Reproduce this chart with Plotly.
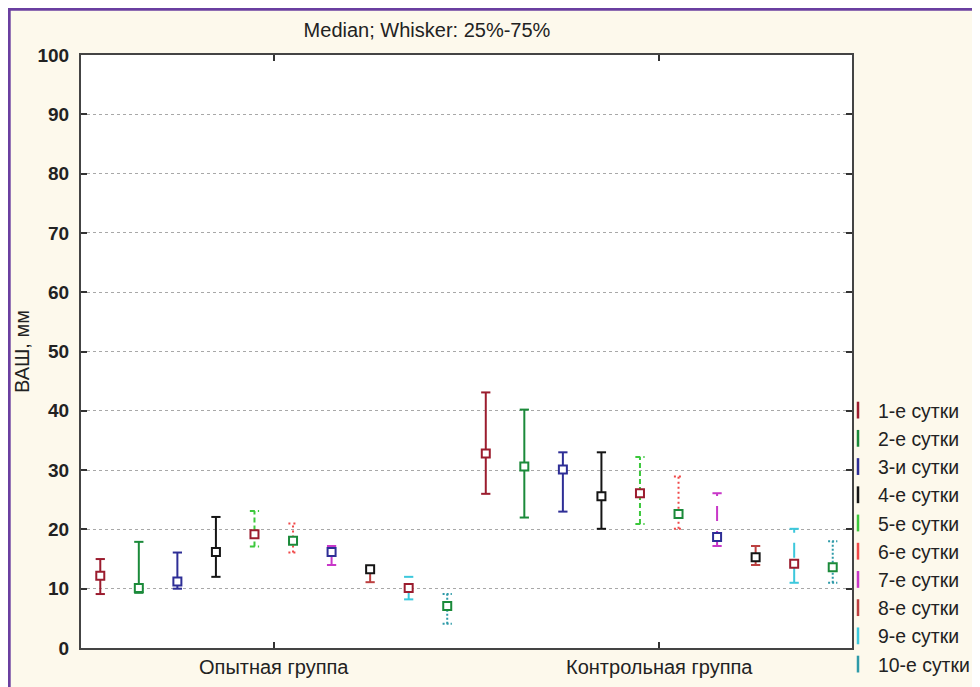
import plotly.graph_objects as go

# ---------------- data ----------------
groups = ["Опытная группа", "Контрольная группа"]
series_names = ["1-е сутки", "2-е сутки", "3-и сутки", "4-е сутки", "5-е сутки",
                "6-е сутки", "7-е сутки", "8-е сутки", "9-е сутки", "10-е сутки"]

opyt_median = [12.2, 10.1, 11.2, 16.2, 19.2, 18.1, 16.2, 13.3, 10.1, 7.1]
opyt_q25 = [9.1, 9.3, 10.0, 12.0, 17.1, 16.1, 14.0, 11.1, 8.2, 4.1]
opyt_q75 = [15.0, 17.9, 16.1, 22.1, 23.1, 21.0, 17.2, 13.6, 12.0, 9.1]

kontr_median = [32.8, 30.6, 30.1, 25.6, 26.1, 22.6, 18.7, 15.3, 14.2, 13.6]
kontr_q25 = [26.0, 22.0, 23.0, 20.1, 20.9, 20.1, 17.2, 14.0, 11.0, 11.0]
kontr_q75 = [43.1, 40.2, 33.0, 33.0, 32.2, 28.9, 26.1, 17.2, 20.1, 18.0]

y_ticks = [0, 10, 20, 30, 40, 50, 60, 70, 80, 90, 100]

# ---------------- styles ----------------
marker_colors = ["#9B1C2E", "#1B8A3A", "#2E2E96", "#151515", "#9B1C2E",
                 "#1B8A3A", "#2E2E96", "#151515", "#9B1C2E", "#1B8A3A"]
whisker_colors = ["#9B1C2E", "#1B8A3A", "#2E2E96", "#151515", "#3CC83C",
                  "#F04848", "#C837C8", "#BC4040", "#3CC8DC", "#2E9AA8"]
whisker_dash = ["solid", "solid", "solid", "solid", "5px,3px",
                "2px,3px", "15px,10px", "solid", "15px,10px", "2px,2px"]

FONT = "Liberation Sans, Arial, sans-serif"
TXT = "#222222"
spacing = 0.1
cap = 0.012

medians = [opyt_median, kontr_median]
q25 = [opyt_q25, kontr_q25]
q75 = [opyt_q75, kontr_q75]

fig = go.Figure()

for i, name in enumerate(series_names):
    off = (i - 4.5) * spacing
    wx, wy = [], []
    mx, my = [], []
    for g in range(len(groups)):
        xc = g + off
        lo, hi = q25[g][i], q75[g][i]
        wx += [xc, xc, None, xc - cap, xc + cap, None, xc - cap, xc + cap, None]
        wy += [lo, hi, None, lo, lo, None, hi, hi, None]
        mx.append(xc)
        my.append(medians[g][i])
    fig.add_trace(go.Scatter(
        x=wx, y=wy, mode="lines", legendgroup=name, showlegend=False,
        line=dict(color=whisker_colors[i], width=2, dash=whisker_dash[i]),
        hoverinfo="skip"))
    fig.add_trace(go.Scatter(
        x=mx, y=my, mode="markers", legendgroup=name, showlegend=False, name=name,
        marker=dict(symbol="square", size=8, color="white",
                    line=dict(color=marker_colors[i], width=2))))
    # legend entry
    fig.add_trace(go.Scatter(
        x=[None], y=[None], mode="markers", name=name, legendgroup=name,
        showlegend=True,
        marker=dict(symbol="line-ns", size=12,
                    line=dict(color=whisker_colors[i], width=2.5))))

# the page body adds an 8px offset; figure coordinates below are figure pixels
W, H = 972, 679
L, R, T, B = 73, 128, 47, 39
pw, ph = W - L - R, H - T - B


def px_x(p):
    return (p - L) / pw


def px_y(p):
    return (H - B - p) / ph


shapes = [
    dict(type="line", xref="paper", yref="paper", x0=px_x(1.2), x1=px_x(1.2),
         y0=px_y(0), y1=px_y(H + 5), line=dict(color="#6A3FA0", width=3)),
    dict(type="line", xref="paper", yref="paper", x0=px_x(0), x1=px_x(W + 5),
         y0=px_y(1.2), y1=px_y(1.2), line=dict(color="#6A3FA0", width=3)),
]

fig.update_layout(
    width=W, height=H,
    margin=dict(l=L, r=R, t=T, b=B, autoexpand=False),
    paper_bgcolor="#FDF9EC",
    plot_bgcolor="white",
    font=dict(family=FONT, size=20, color=TXT),
    title=dict(text="Median; Whisker: 25%-75%", x=px_x(419), xref="paper",
               xanchor="center", y=1 - 22 / H, yanchor="middle",
               font=dict(family=FONT, size=20, color=TXT)),
    showlegend=True,
    legend=dict(x=px_x(830), xanchor="left", y=px_y(383), yanchor="top",
                bgcolor="rgba(0,0,0,0)", font=dict(family=FONT, size=19.4, color=TXT),
                tracegroupgap=0, itemwidth=30),
    shapes=shapes,
    xaxis=dict(range=[-0.5, 1.5], tickmode="array", tickvals=[0, 1], ticktext=groups,
               ticks="inside", ticklen=6, tickcolor="#333", tickwidth=1.5,
               showline=True, linecolor="#444", linewidth=2, mirror="ticks",
               showgrid=False, zeroline=False, automargin=False,
               tickfont=dict(family=FONT, size=20, color=TXT)),
    yaxis=dict(range=[0, 100], tickmode="array", tickvals=y_ticks,
               ticktext=[f"<b>{v}</b>" for v in y_ticks],
               ticks="inside", ticklen=6, tickcolor="#333", tickwidth=1.5,
               showline=True, linecolor="#444", linewidth=2, mirror="ticks",
               showgrid=True, gridcolor="#A8A8A8", griddash="dot", gridwidth=1,
               zeroline=False, ticklabelstandoff=6, automargin=False,
               tickfont=dict(family=FONT, size=19, color=TXT),
               title=dict(text="ВАШ, мм", standoff=2,
                          font=dict(family=FONT, size=20, color=TXT))),
)

fig.write_html("out.html")
